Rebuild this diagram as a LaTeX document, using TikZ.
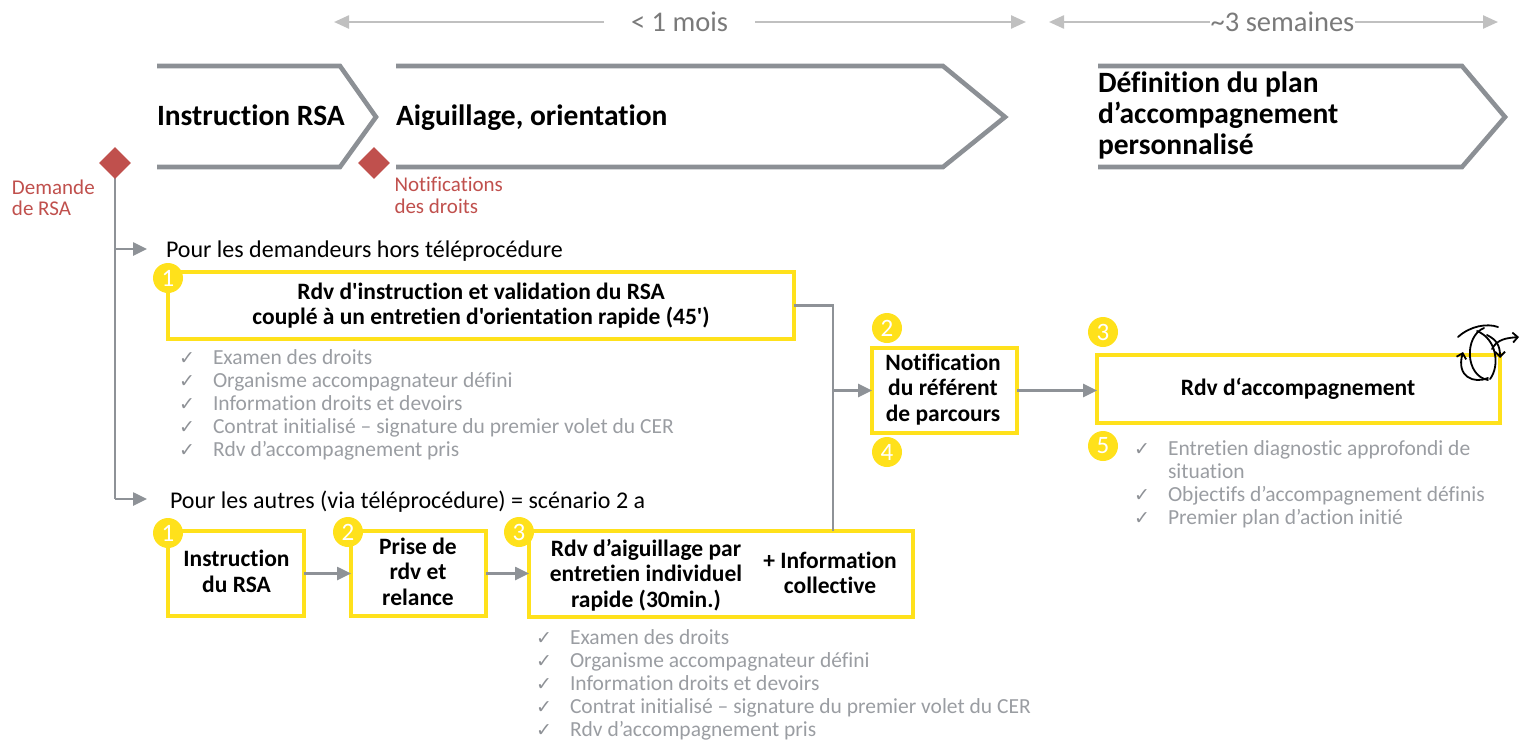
\documentclass[tikz,border=0pt]{standalone}
\usepackage{fontspec}
\setmainfont{Carlito}[Ligatures={TeXOff,CommonOff}]
\newfontfamily\ckfont{DejaVu Sans}
\usetikzlibrary{arrows.meta}
\definecolor{ylw}{HTML}{FFE11B}
\definecolor{cgray}{HTML}{8E9297}
\definecolor{chgray}{HTML}{8C9095}
\definecolor{lgray}{HTML}{C0C0C0}
\definecolor{tgray}{HTML}{7A7A7A}
\definecolor{lstgray}{HTML}{9A9DA2}
\definecolor{ckgray}{HTML}{8E9196}
\definecolor{rsared}{HTML}{C0504D}
\newcommand{\tst}{\rule{0pt}{1em}}
\begin{document}
\begin{tikzpicture}[x=1pt,y=-1pt,
  every node/.style={inner sep=0pt, outer sep=0pt},
  hdr/.style={font=\bfseries\fontsize{29.5}{31}\selectfont},
  tl/.style={draw=lgray, line width=2.4pt, -{Triangle[length=15pt,width=13pt]}},
  ttext/.style={font=\fontsize{28.5}{30}\selectfont, text=tgray},
  chev/.style={draw=chgray, line width=4.6pt, line join=miter},
  ybox/.style={draw=ylw, line width=4.5pt, fill=white},
  badge/.style={circle, fill=ylw, minimum size=30pt, text=white, font=\fontsize{25}{25}\selectfont},
  conn/.style={draw=cgray, line width=2.6pt, -{Triangle[length=14pt,width=13pt]}},
  plain/.style={draw=cgray, line width=2.6pt},
  btext/.style={font=\bfseries\fontsize{23.5}{25.7}\selectfont, align=center, anchor=north},
  reg/.style={font=\fontsize{24}{26}\selectfont, anchor=base west},
  redt/.style={font=\fontsize{21}{21.5}\selectfont, text=rsared, align=left, anchor=north west},
  lst/.style={font=\fontsize{21.5}{23}\selectfont, text=lstgray, anchor=base west},
  ck/.style={font=\ckfont\fontsize{19}{19}\selectfont, text=ckgray, anchor=base west},
  icon/.style={draw=black, line width=1.8pt, line cap=round}
]
\useasboundingbox (0,0) rectangle (1520,740);

% ---------- timeline ----------
\coordinate (ta1) at (334,22);
\coordinate (tb1) at (1026,22);
\node[ttext, inner xsep=27pt] (T1) at (679.5,22) {< 1 mois};
\draw[tl] (T1.west) -- (ta1);
\draw[tl] (T1.east) -- (tb1);
\coordinate (ta2) at (1049,22);
\coordinate (tb2) at (1498,22);
\node[ttext, inner xsep=1pt] (T2) at (1282.5,22) {\textasciitilde 3 semaines};
\draw[tl] (T2.west) -- (ta2);
\draw[tl] (T2.east) -- (tb2);

% ---------- chevrons ----------
\draw[chev] (157,66) -- (340,66) -- (376,117) -- (340,167) -- (157,167);
\draw[chev] (396,66) -- (943,66) -- (1005,117) -- (943,167) -- (396,167);
\draw[chev] (1098,66) -- (1462,66) -- (1505,117) -- (1462,167) -- (1098,167);
\node[hdr, anchor=base west] (H1) at (157,125) {Instruction RSA};
\node[hdr, anchor=base west] (H2) at (396,125) {Aiguillage, orientation};
\node[hdr, align=left, anchor=north west] (H3) at (1098,63.2)
  {\tst Définition du plan\\d’accompagnement\\personnalisé};

% ---------- milestones ----------
\coordinate (dA) at (115,163);
\coordinate (tA) at (115,249);
\coordinate (tB) at (115,499);
\coordinate (aA) at (147,249);
\coordinate (aB) at (147,499);
\draw[plain] (dA) -- (tB);
\draw[conn] (tA) -- (aA);
\draw[conn] (tB) -- (aB);
\node[fill=rsared, rotate=45, minimum size=22.6pt] (D1) at (dA) {};
\node[fill=rsared, rotate=45, minimum size=22.6pt] (D2) at (374,163) {};
\node[redt] (R1) at (12,173) {\tst Demande\\de RSA};
\node[redt] (R2) at (394.5,170.7) {\tst Notifications\\des droits};

\node[reg] (P1) at (166,257.5) {Pour les demandeurs hors téléprocédure};
\node[reg] (P2) at (170,508.5) {Pour les autres (via téléprocédure) = scénario 2 a};

% ---------- boxes ----------
\node[ybox, minimum width=626pt, minimum height=67pt] (A) at (481,305.5) {};
\node[ybox, minimum width=145pt, minimum height=85pt] (N) at (944.5,390.5) {};
\node[ybox, minimum width=403pt, minimum height=68pt] (R) at (1298.5,389) {};
\node[ybox, minimum width=136pt, minimum height=85pt] (B1) at (236,573.5) {};
\node[ybox, minimum width=135pt, minimum height=85pt] (B2) at (418.5,573.5) {};
\node[ybox, minimum width=384pt, minimum height=86pt] (B3) at (721,574) {};

% ---------- connectors ----------
\coordinate (jn) at (833,390.5);
\draw[plain] (A.east) -| (jn);
\draw[plain] (B3.north -| jn) -- (jn);
\draw[conn] (jn) -- (N.west);
\draw[conn] (N.east) -- (N.east -| R.west);
\draw[conn] (B1.east) -- (B2.west);
\draw[conn] (B2.east) -- (B2.east -| B3.west);

% ---------- box texts ----------
\node[btext] (tA1) at (481,275.5) {\tst Rdv d'instruction et validation du RSA\\couplé à un entretien d'orientation rapide (45')};
\node[btext] (tN) at (943,346.5) {\tst Notification\\du référent\\de parcours};
\node[font=\bfseries\fontsize{23.5}{25.7}\selectfont, anchor=base] (tR) at (1298,395) {Rdv d‘accompagnement};
\node[btext] (tB1) at (236.5,543.2) {\tst Instruction\\du RSA};
\node[btext] (tB2) at (418,530.5) {\tst Prise de\\rdv et\\relance};
\node[btext] (tB3) at (646,532.5) {\tst Rdv d’aiguillage par\\entretien individuel\\rapide (30min.)};
\node[btext] (tB4) at (830,544.5) {\tst + Information\\collective};

% ---------- badges ----------
\node[badge] (bA1) at (168,278) {1};
\node[badge] (bN2) at (887,328) {2};
\node[badge] (bN4) at (887,452) {4};
\node[badge] (bR3) at (1103,332) {3};
\node[badge] (bR5) at (1103,446) {5};
\node[badge] (bB1) at (168,533) {1};
\node[badge] (bB2) at (348,532) {2};
\node[badge] (bB3) at (519,532) {3};

% ---------- lists ----------
\foreach \t [count=\i] in {Examen des droits, Organisme accompagnateur défini, Information droits et devoirs, Contrat initialisé – signature du premier volet du CER, Rdv d’accompagnement pris} {
  \pgfmathsetmacro{\yy}{364.3+(\i-1)*23.1}
  \node[ck] (ckA\i) at (179,\yy) {✓};
  \node[lst] (lA\i) at (213,\yy) {\t};
  \pgfmathsetmacro{\yb}{644+(\i-1)*23}
  \node[ck] (ckB\i) at (536,\yb) {✓};
  \node[lst] (lB\i) at (570,\yb) {\t};
}
\node[ck] (ckC1) at (1134,455) {✓};
\node[lst] (lC1) at (1168,455) {Entretien diagnostic approfondi de};
\node[lst] (lC2) at (1168,478.5) {situation};
\node[ck] (ckC2) at (1134,501.5) {✓};
\node[lst] (lC3) at (1168,501.5) {Objectifs d’accompagnement définis};
\node[ck] (ckC3) at (1134,524.5) {✓};
\node[lst] (lC4) at (1168,524.5) {Premier plan d’action initié};

% ---------- icon ----------
\draw[icon] (1458,337) .. controls (1470,326) and (1487,323) .. (1498,327);
\draw[icon] (1484,328) .. controls (1464,336) and (1465,376) .. (1488,380);
\draw[icon] (1477,331) .. controls (1497,339) and (1500,366) .. (1490,379);
\draw[icon, -{Straight Barb[length=5pt]}] (1487,335) .. controls (1497,340) and (1500,346) .. (1500,358);
\draw[icon, -{Straight Barb[length=5pt]}] (1492,349) .. controls (1497,339) and (1507,338) .. (1519,337);
\draw[icon, -{Straight Barb[length=5pt]}] (1488,378) .. controls (1474,384) and (1456,377) .. (1463,352);
\end{tikzpicture}
\end{document}
